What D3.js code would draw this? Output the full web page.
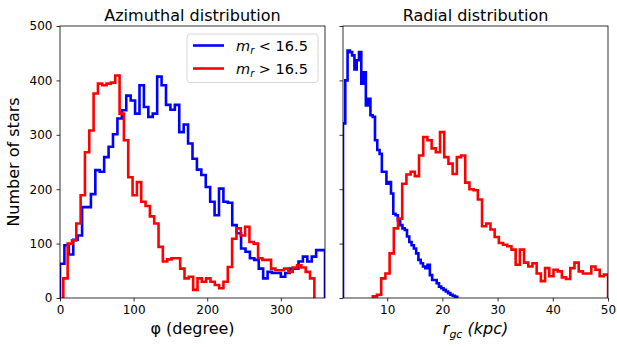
<!DOCTYPE html>
<html>
<head>
<meta charset="utf-8">
<script src="https://cdn.jsdelivr.net/npm/d3@7"></script>
<style>
  body { margin: 0; background: #fff; }
  svg { display: block; }
  text { font-family: "DejaVu Sans", sans-serif; fill: #000; }
</style>
</head>
<body>
<div id="chart"></div>
<script>
// azimuthal histograms (phi in degrees), counts per bin
const azBlueStart = 0, azBlueWidth = 6;
const azBlue = [63, 97, 80, 107, 115, 167, 167, 191, 235, 232, 259, 278, 301, 330, 345, 372, 363, 339, 391, 351,
                333, 339, 407, 391, 355, 346, 355, 305, 319, 284, 256, 236, 226, 204, 177, 152, 201, 177, 175, 134,
                119, 91, 85, 73, 70, 54, 36, 48, 46, 46, 39, 46, 54, 54, 67, 76, 67, 76, 88, 88];
const azRedStart = 4.5, azRedWidth = 5.88;
const azRed = [36, 100, 106, 137, 189, 268, 308, 376, 394, 391, 394, 396, 409, 339, 290, 222, 189, 213, 177, 169,
               150, 137, 94, 67, 71, 73, 73, 54, 36, 39, 15, 36, 30, 36, 30, 24, 18, 30, 57, 109,
               128, 115, 131, 103, 100, 73, 70, 70, 54, 51, 51, 54, 48, 56, 60, 56, 48, 36];

// radial histograms (r_gc in kpc)
const radBlueStart = 2.0, radBlueWidth = 0.414;
const radBlue = [321, 400, 455, 452, 446, 420, 437, 452, 394, 415, 354, 366, 336, 333, 290, 272, 265, 232, 232, 210,
                 213, 192, 155, 152, 143, 134, 128, 125, 113, 103, 97, 91, 82, 70, 64, 58, 55, 61, 42, 33,
                 33, 27, 21, 18, 15, 12, 9, 6, 4, 2];
const radRedStart = 7.4, radRedWidth = 0.761;
const radRed = [3, 6, 36, 45, 82, 128, 146, 210, 227, 232, 224, 262, 296, 290, 275, 268, 305, 259, 247, 228,
                259, 262, 212, 200, 198, 181, 132, 137, 126, 112, 101, 98, 95, 89, 61, 89, 65, 58, 64, 45,
                31, 55, 40, 52, 49, 38, 35, 55, 65, 49, 45, 45, 58, 52, 40, 43];

const yTicks = [0, 100, 200, 300, 400, 500];
const azTicks = [0, 100, 200, 300];
const radTicks = [10, 20, 30, 40, 50];

const W = 617, H = 347;
const plotTop = 26, plotBottom = 298;
const blue = "#0000ff", red = "#ff0000";
const lineW = 2.6;

const svg = d3.select("#chart").append("svg")
    .attr("width", W)
    .attr("height", H);

const y = d3.scaleLinear().domain([0, 500]).range([plotBottom, plotTop]);

// outline of a matplotlib step histogram
const stepPoints = (start, width, vals) => {
    const pts = [[start, 0]];
    vals.forEach((v, i) => {
        pts.push([start + i * width, v]);
        pts.push([start + (i + 1) * width, v]);
    });
    pts.push([start + vals.length * width, 0]);
    return pts;
};

const panels = [
    { id: "az", x0: 60, x1: 325, domain: [0, 360], ticks: azTicks, title: "Azimuthal distribution", yLabels: true,
      series: [{ start: azBlueStart, width: azBlueWidth, vals: azBlue, color: blue },
               { start: azRedStart, width: azRedWidth, vals: azRed, color: red }] },
    { id: "rad", x0: 343, x1: 608, domain: [2, 50], ticks: radTicks, title: "Radial distribution", yLabels: false,
      series: [{ start: radBlueStart, width: radBlueWidth, vals: radBlue, color: blue },
               { start: radRedStart, width: radRedWidth, vals: radRed, color: red }] }
];

panels.forEach(p => {
    const x = d3.scaleLinear().domain(p.domain).range([p.x0, p.x1]);
    const g = svg.append("g");

    svg.append("clipPath").attr("id", "clip-" + p.id)
        .append("rect")
        .attr("x", p.x0).attr("y", plotTop)
        .attr("width", p.x1 - p.x0).attr("height", plotBottom - plotTop);

    const line = d3.line().x(d => x(d[0])).y(d => y(d[1]));

    g.selectAll(".hist")
        .data(p.series)
        .enter()
        .append("path")
        .attr("class", "hist")
        .attr("clip-path", `url(#clip-${p.id})`)
        .attr("d", d => line(stepPoints(d.start, d.width, d.vals)))
        .attr("fill", "none")
        .attr("stroke", d => d.color)
        .attr("stroke-width", lineW)
        .attr("stroke-linejoin", "miter");

    // x axis
    const xAxis = g.append("g")
        .attr("transform", `translate(0, ${plotBottom})`)
        .call(d3.axisBottom(x).tickValues(p.ticks).tickSize(3.5).tickSizeOuter(0).tickPadding(4));
    xAxis.select(".domain").remove();
    xAxis.selectAll("text").style("font-size", "12px").style("font-family", "DejaVu Sans");
    xAxis.selectAll("line").attr("stroke", "#000").attr("stroke-width", 0.8);

    // y axis
    const yAxis = g.append("g")
        .attr("transform", `translate(${p.x0}, 0)`)
        .call(d3.axisLeft(y).tickValues(yTicks).tickSize(3.5).tickSizeOuter(0).tickPadding(4));
    yAxis.select(".domain").remove();
    yAxis.selectAll("line").attr("stroke", "#000").attr("stroke-width", 0.8);
    if (p.yLabels) {
        yAxis.selectAll("text").style("font-size", "12px").style("font-family", "DejaVu Sans");
    } else {
        yAxis.selectAll("text").remove();
    }

    // frame
    g.append("rect")
        .attr("x", p.x0).attr("y", plotTop)
        .attr("width", p.x1 - p.x0).attr("height", plotBottom - plotTop)
        .attr("fill", "none")
        .attr("stroke", "#000")
        .attr("stroke-width", 0.8);

    g.append("text")
        .text(p.title)
        .attr("x", (p.x0 + p.x1) / 2)
        .attr("y", 21)
        .style("font-size", "16px")
        .style("text-anchor", "middle");
});

// axis labels
svg.append("text")
    .text("φ (degree)")
    .attr("x", 192.5)
    .attr("y", 334)
    .style("font-size", "16px")
    .style("text-anchor", "middle");

const rLabel = svg.append("text")
    .attr("x", 475.5)
    .attr("y", 334)
    .style("font-size", "16px")
    .style("font-style", "italic")
    .style("text-anchor", "middle");
rLabel.append("tspan").text("r");
rLabel.append("tspan").text("gc").attr("dy", 3.5).style("font-size", "11px");
rLabel.append("tspan").text(" (kpc)").attr("dy", -3.5);

svg.append("text")
    .text("Number of stars")
    .attr("transform", `translate(19, ${(plotTop + plotBottom) / 2}) rotate(-90)`)
    .style("font-size", "16px")
    .style("text-anchor", "middle");

// legend
const legendItems = [{ color: blue, op: "<" }, { color: red, op: ">" }];
const legend = svg.append("g");
legend.append("rect")
    .attr("x", 187).attr("y", 34)
    .attr("width", 131).attr("height", 48.5)
    .attr("rx", 3)
    .attr("fill", "#fff")
    .attr("fill-opacity", 0.8)
    .attr("stroke", "#ccc")
    .attr("stroke-width", 0.8);

legendItems.forEach((d, i) => {
    const ly = 45.5 + i * 23;
    legend.append("line")
        .attr("x1", 193).attr("x2", 224)
        .attr("y1", ly).attr("y2", ly)
        .attr("stroke", d.color)
        .attr("stroke-width", lineW);
    const t = legend.append("text")
        .attr("x", 236)
        .attr("y", ly + 5.5)
        .style("font-size", "14.5px");
    t.append("tspan").text("m").style("font-style", "italic");
    t.append("tspan").text("r").style("font-style", "italic").style("font-size", "10px").attr("dy", 3);
    t.append("tspan").text(` ${d.op} 16.5`).attr("dy", -3);
});
</script>
</body>
</html>
